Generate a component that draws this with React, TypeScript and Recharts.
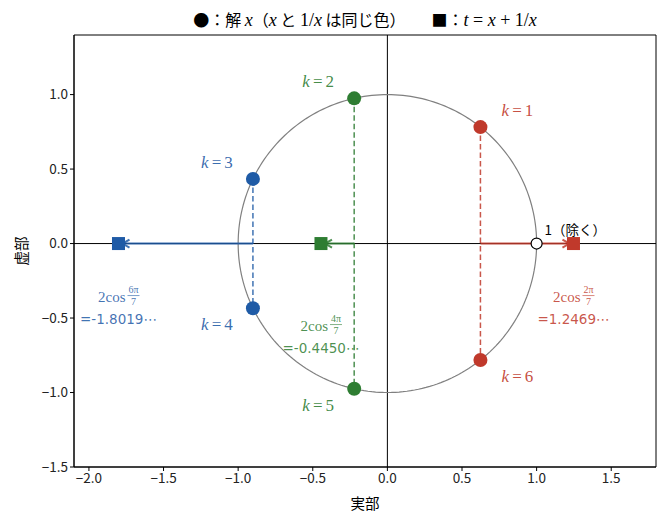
import React from "react";
import {
  ScatterChart,
  Scatter,
  XAxis,
  YAxis,
  ReferenceLine,
  ReferenceArea,
} from "recharts";

// roots x_k = cos(2πk/7) + i sin(2πk/7), k = 1..6
const rootK = [1, 2, 3, 4, 5, 6];
const rootRe = [0.6235, -0.2225, -0.901, -0.901, -0.2225, 0.6235];
const rootIm = [0.7818, 0.9749, 0.4339, -0.4339, -0.9749, -0.7818];
const rootGroup = [0, 1, 2, 2, 1, 0];

// t = x + 1/x = 2cos(2πk/7) for each pair
const tValue = [1.247, -0.445, -1.8019];
const tNumer = ["2π", "4π", "6π"];
const tText = ["=1.2469⋯", "=-0.4450⋯", "=-1.8019⋯"];

const excluded = [{ x: 1, y: 0 }];

const xTicks = [-2, -1.5, -1, -0.5, 0, 0.5, 1, 1.5];
const yTicks = [-1.5, -1, -0.5, 0, 0.5, 1];

const groupColors = ["#c0392b", "#2e7d32", "#1f5ba6"];
const labelDy = [53, 82, 53];

const SANS = '"Noto Sans CJK JP", sans-serif';
const SERIF = '"Liberation Serif", serif';

// unit circle guide
const circlePts = Array.from({ length: 241 }, (_, i) => {
  const a = (2 * Math.PI * i) / 240;
  return { x: Math.cos(a), y: Math.sin(a) };
});

const roots = rootK.map((k, i) => ({
  x: rootRe[i],
  y: rootIm[i],
  k,
  g: rootGroup[i],
}));

const fmt = (v: number) => v.toFixed(1).replace("-", "\u2212");

const Empty = () => <g />;

const RootDot = (p: any) => {
  const { cx, cy, payload } = p;
  const color = groupColors[payload.g];
  const dx = payload.x > 0 ? 37 : -36;
  const dy = payload.y > 0 ? -17 : 16;
  return (
    <g>
      <circle cx={cx} cy={cy} r={7} fill={color} />
      <text
        x={cx + dx}
        y={cy + dy}
        textAnchor="middle"
        dominantBaseline="central"
        fontFamily={SERIF}
        fontSize={17}
        fill={color}
        fillOpacity={0.9}
      >
        <tspan fontStyle="italic">k</tspan>
        <tspan dx={3}>=</tspan>
        <tspan dx={3}>{payload.k}</tspan>
      </text>
    </g>
  );
};

const TSquare = (p: any) => {
  const { cx, cy, payload } = p;
  const g = payload.g;
  const color = groupColors[g];
  const ly = cy + labelDy[g];
  return (
    <g>
      <rect x={cx - 6.5} y={cy - 6.5} width={13} height={13} fill={color} />
      <g fill={color} fillOpacity={0.85}>
        <text x={cx + 7} y={ly} textAnchor="end" dominantBaseline="central" fontFamily={SERIF} fontSize={15}>
          2cos
        </text>
        <text x={cx + 15} y={ly - 4} textAnchor="middle" fontFamily={SERIF} fontSize={10}>
          {tNumer[g]}
        </text>
        <line x1={cx + 9} x2={cx + 21} y1={ly - 1} y2={ly - 1} stroke={color} strokeOpacity={0.85} strokeWidth={0.7} />
        <text x={cx + 15} y={ly + 8} textAnchor="middle" fontFamily={SERIF} fontSize={10}>
          7
        </text>
        <text x={cx} y={ly + 22} textAnchor="middle" dominantBaseline="central" fontFamily='"DejaVu Sans", sans-serif' fontSize={13.5}>
          {tText[g]}
        </text>
      </g>
    </g>
  );
};

const ArrowHead = (p: any) => {
  const { cx, cy, payload } = p;
  if (!payload.head) return <g />;
  const dir = payload.dir;
  const tx = cx - dir * 4;
  return (
    <path
      d={`M${tx - dir * 7},${cy - 4} L${tx},${cy} L${tx - dir * 7},${cy + 4}`}
      fill="none"
      stroke={groupColors[payload.g]}
      strokeOpacity={0.85}
      strokeWidth={2}
    />
  );
};

const OpenDot = (p: any) => (
  <g>
    <circle cx={p.cx} cy={p.cy} r={5.5} fill="#fff" stroke="#000" strokeWidth={1.2} />
    <text x={p.cx + 8} y={p.cy - 15} dominantBaseline="central" fontFamily={SANS} fontSize={13.5} fill="#000">
      1（除く）
    </text>
  </g>
);

const M = ({ children }: { children: React.ReactNode }) => (
  <span style={{ fontFamily: SERIF, fontSize: 18 }}>{children}</span>
);

export default function App() {
  const groups = [0, 1, 2];
  return (
    <div style={{ position: "absolute", left: 0, top: 0, width: 665, height: 521, background: "#fff" }}>
      <div
        style={{
          position: "absolute",
          left: 74,
          width: 582,
          top: 7,
          textAlign: "center",
          fontFamily: SANS,
          fontSize: 16,
          whiteSpace: "nowrap",
          color: "#000",
        }}
      >
        ●：解 <M><i>x</i></M>（<M><i>x</i></M> と <M>1/<i>x</i></M> は同じ色）
        <span style={{ marginLeft: 26 }}>■：</span>
        <M>
          <i>t</i> = <i>x</i> + 1/<i>x</i>
        </M>
      </div>
      <div
        style={{
          position: "absolute",
          left: 365,
          top: 502,
          transform: "translate(-50%, -50%)",
          fontFamily: SANS,
          fontSize: 14.5,
        }}
      >
        実部
      </div>
      <div
        style={{
          position: "absolute",
          left: 20,
          top: 251,
          transform: "translate(-50%, -50%) rotate(-90deg)",
          fontFamily: SANS,
          fontSize: 14.5,
          whiteSpace: "nowrap",
        }}
      >
        虚部
      </div>
      <ScatterChart width={665} height={521} margin={{ top: 35, right: 9, bottom: 24, left: 24 }}>
        <XAxis
          type="number"
          dataKey="x"
          domain={[-2.1, 1.8]}
          ticks={xTicks}
          allowDataOverflow
          height={30}
          tickFormatter={fmt}
          stroke="#000"
          tickSize={4}
          tick={{ fill: "#222", fontSize: 13.5, fontFamily: SANS }}
        />
        <YAxis
          type="number"
          dataKey="y"
          domain={[-1.5, 1.4]}
          ticks={yTicks}
          allowDataOverflow
          width={50}
          tickFormatter={fmt}
          stroke="#000"
          tickSize={4}
          tick={{ fill: "#222", fontSize: 13.5, fontFamily: SANS }}
        />
        <ReferenceArea x1={-2.1} x2={1.8} y1={-1.5} y2={1.4} fill="none" fillOpacity={0} stroke="#000" strokeWidth={1} />
        <ReferenceLine x={0} stroke="#000" strokeWidth={1} />
        <ReferenceLine y={0} stroke="#000" strokeWidth={1} />
        <Scatter
          data={circlePts}
          line={{ stroke: "#808080", strokeWidth: 1.2 }}
          lineType="joint"
          shape={Empty}
          isAnimationActive={false}
        />
        {groups.map((g) => (
          <Scatter
            key={`d${g}`}
            data={[
              { x: rootRe[g], y: rootIm[g] },
              { x: rootRe[5 - g], y: rootIm[5 - g] },
            ]}
            line={{ stroke: groupColors[g], strokeOpacity: 0.85, strokeWidth: 1.5, strokeDasharray: "5.5 3" }}
            lineType="joint"
            shape={Empty}
            isAnimationActive={false}
          />
        ))}
        {groups.map((g) => (
          <Scatter
            key={`a${g}`}
            data={[
              { x: rootRe[g], y: 0, g },
              { x: tValue[g], y: 0, g, head: true, dir: tValue[g] > rootRe[g] ? 1 : -1 },
            ]}
            line={{ stroke: groupColors[g], strokeOpacity: 0.85, strokeWidth: 2 }}
            lineType="joint"
            shape={ArrowHead}
            isAnimationActive={false}
          />
        ))}
        <Scatter data={excluded} shape={OpenDot} isAnimationActive={false} />
        <Scatter data={roots} shape={RootDot} isAnimationActive={false} />
        <Scatter
          data={tValue.map((t, g) => ({ x: t, y: 0, g }))}
          shape={TSquare}
          isAnimationActive={false}
        />
      </ScatterChart>
    </div>
  );
}
